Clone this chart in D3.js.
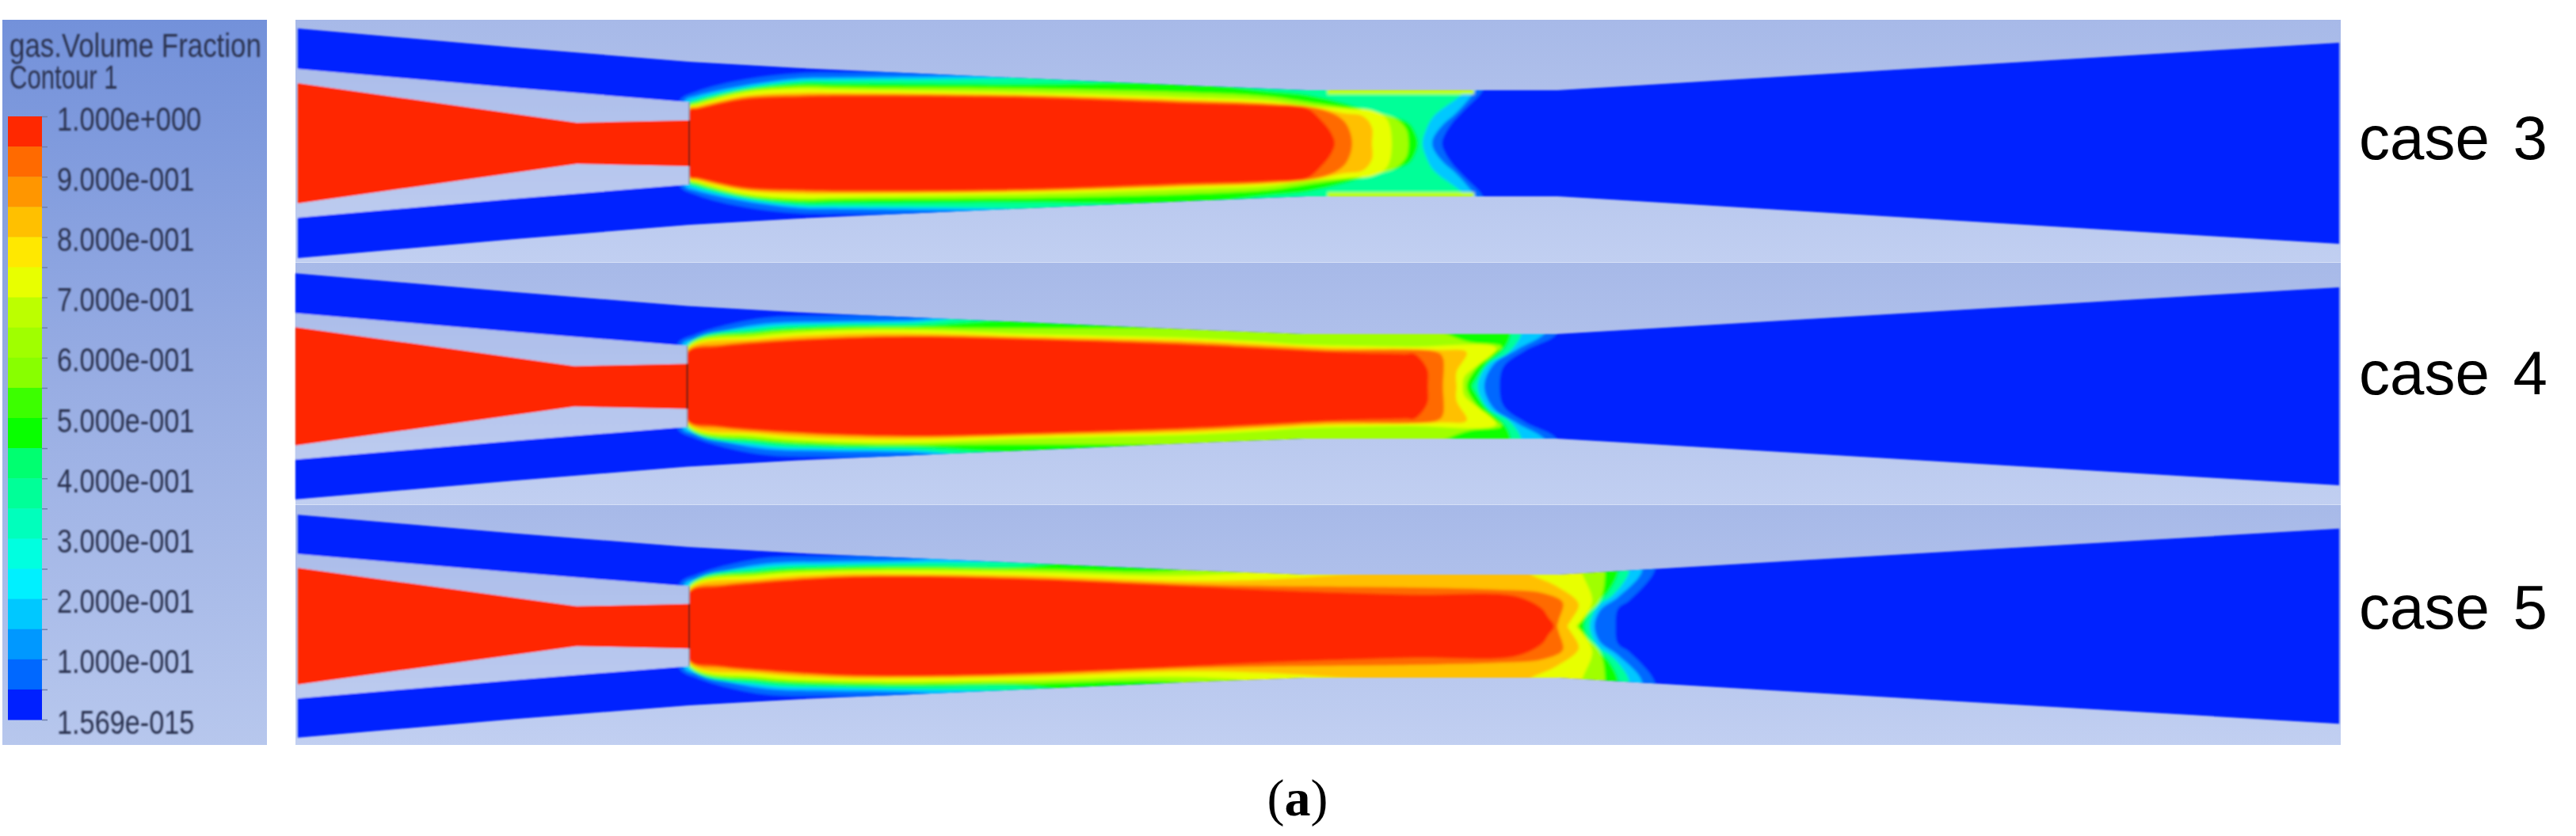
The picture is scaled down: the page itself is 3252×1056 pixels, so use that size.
<!DOCTYPE html>
<html>
<head>
<meta charset="utf-8">
<script src="https://cdnjs.cloudflare.com/ajax/libs/d3/7.8.5/d3.min.js"></script>
<style>
  html, body { margin: 0; background: #fff; }
  text { font-family: "Liberation Sans", Arial, sans-serif; }
</style>
</head>
<body>
<div id="chart"></div>
<script>
// legend: 20 colour bands, top (1.0) to bottom (0)
var legendColors = ['#ff2800', '#ff6a00', '#ff9600', '#ffc000', '#ffe800', '#e8ff00', '#bcff00', '#a0ff00', '#88ff00', '#3cff00',
  '#08ff00', '#00ff70', '#00ff98', '#00ffbc', '#00ffe0', '#00f0ff', '#00c8ff', '#0098ff', '#0068ff', '#0020ff'];
var legendTicks = [1, 0.9, 0.8, 0.7, 0.6, 0.5, 0.4, 0.3, 0.2, 0.1, 0];
var legendLabels = ['1.000e+000', '9.000e-001', '8.000e-001', '7.000e-001', '6.000e-001', '5.000e-001',
  '4.000e-001', '3.000e-001', '2.000e-001', '1.000e-001', '1.569e-015'];

var caseNames = ['case 3', 'case 4', 'case 5'];

// ejector geometry as [axial, half height]
var wallProfile = [[0, 145], [274, 121], [494, 103], [634, 95], [924, 82], [1124, 73], [1274, 67], [1590, 67], [2577, 127]];
var suctionInner = [[0, 94], [274, 70], [494, 52]];
var primaryNozzle = [[0, 76], [352, 26], [494, 29]];

// which legend band each contour below is filled with, outermost first
var contourBands = [18, 16, 12, 10, 7, 5, 3, 1, 0];

var case3Contours = [
  [[481, 53], [504, 66], [564, 81], [634, 89], [700, 90], [800, 92], [1480, 92], [1498, 75], [1496, 66], [1471, 40], [1458, 26], [1448, 10], [1445, 0]],
  [[488, 53], [504, 60], [564, 73], [634, 82], [684, 83], [880, 86], [1000, 92], [1480, 92], [1490, 75], [1486, 66], [1462, 38], [1446, 24], [1434, 8], [1432, 0]],
  [[494, 51], [504, 56], [564, 70], [634, 79], [684, 80], [924, 84], [1000, 92], [1460, 92], [1477, 72], [1470, 62], [1434, 34], [1424, 16], [1420, 0]],
  [[494, 49], [504, 53], [564, 68], [634, 76], [684, 76], [924, 75], [1124, 76], [1224, 66], [1274, 61], [1330, 48], [1357, 39], [1391, 31], [1404, 24], [1412, 10], [1414, 0]],
  [[494, 47], [504, 51], [564, 66], [634, 72], [684, 71], [924, 69], [1124, 64], [1224, 59], [1274, 52], [1340, 42], [1384, 32], [1399, 18], [1402, 0]],
  [[494, 46], [504, 49], [564, 64], [634, 69], [684, 68], [924, 64], [1124, 58], [1224, 54], [1274, 47], [1320, 44], [1357, 41], [1375, 30], [1381, 0]],
  [[494, 44], [504, 47], [564, 60], [634, 64], [684, 64], [924, 61], [1124, 55], [1224, 51], [1281, 46], [1320, 38], [1345, 34], [1356, 20], [1356, 0]],
  [[494, 43], [504, 45], [564, 58], [634, 61], [684, 62], [924, 60], [1124, 53], [1224, 50], [1281, 45], [1310, 36], [1324, 24], [1331, 0]],
  [[494, 42], [504, 44], [564, 56], [634, 59], [684, 60], [924, 58], [1124, 51], [1224, 48], [1274, 44], [1291, 30], [1304, 14], [1309, 0]]
];

var case4Contours = [
  [[481, 53], [504, 66], [584, 86], [684, 90], [784, 92], [860, 95], [1585, 95], [1591, 67], [1551, 45], [1524, 25], [1519, 0]],
  [[488, 53], [504, 60], [584, 78], [684, 82], [784, 84], [880, 95], [1570, 95], [1577, 70], [1541, 47], [1511, 28], [1499, 0]],
  [[494, 52], [584, 74], [684, 79], [784, 81], [924, 95], [1540, 95], [1547, 70], [1530, 43], [1504, 28], [1491, 0]],
  [[494, 51], [584, 70], [684, 76], [784, 77], [924, 85], [1530, 85], [1533, 70], [1526, 50], [1500, 26], [1488, 8], [1484, 0]],
  [[494, 50], [584, 67], [684, 73], [784, 74], [924, 73], [1124, 74], [1430, 75], [1444, 69], [1480, 56], [1521, 50], [1500, 35], [1480, 10], [1477, 0]],
  [[494, 48], [584, 63], [684, 70], [784, 71], [924, 66], [1124, 61], [1224, 56], [1264, 53], [1400, 50], [1514, 48], [1474, 12], [1472, 0]],
  [[494, 46], [584, 60], [684, 66], [784, 67], [924, 63], [1124, 58], [1224, 53], [1300, 49], [1440, 46], [1477, 43], [1464, 18], [1464, 0]],
  [[494, 44], [540, 53], [584, 57], [684, 62], [784, 64], [924, 61], [1124, 55], [1224, 50], [1300, 46], [1440, 43], [1447, 36], [1447, 0]],
  [[494, 43], [530, 50], [584, 55], [684, 61], [784, 63], [924, 60], [1124, 53], [1224, 48], [1300, 44], [1400, 41], [1411, 41], [1427, 22], [1428, 0]]
];

var case5Contours = [
  [[481, 53], [504, 66], [584, 86], [684, 89], [784, 92], [860, 95], [1708, 95], [1714, 72], [1681, 32], [1667, 22], [1664, 0]],
  [[488, 53], [504, 60], [584, 78], [684, 82], [784, 84], [880, 95], [1690, 95], [1697, 70], [1667, 37], [1644, 20], [1637, 0]],
  [[494, 52], [584, 74], [684, 78], [784, 80], [924, 84], [1000, 95], [1675, 95], [1681, 70], [1661, 40], [1641, 25], [1631, 0]],
  [[494, 51], [584, 70], [684, 75], [784, 76], [924, 76], [1040, 95], [1660, 95], [1667, 70], [1654, 43], [1637, 27], [1624, 0]],
  [[494, 50], [584, 67], [684, 72], [784, 73], [924, 72], [1124, 72], [1200, 95], [1645, 95], [1650, 68], [1644, 33], [1617, 0]],
  [[494, 48], [584, 64], [684, 69], [784, 70], [924, 68], [1124, 64], [1224, 72], [1300, 95], [1615, 95], [1621, 68], [1634, 32], [1620, 6], [1614, 0]],
  [[494, 46], [584, 60], [684, 66], [784, 66], [924, 64], [1124, 57], [1224, 59], [1404, 70], [1550, 70], [1557, 65], [1590, 50], [1617, 28], [1607, 7], [1603, 0]],
  [[494, 44], [540, 53], [584, 57], [684, 63], [784, 64], [924, 61], [1124, 53], [1224, 51], [1404, 49], [1520, 46], [1571, 42], [1597, 30], [1592, 8], [1590, 0]],
  [[494, 43], [530, 50], [584, 55], [684, 62], [784, 63], [924, 60], [1124, 51], [1224, 46], [1404, 40], [1537, 38], [1571, 22], [1578, 12], [1586, 0]]
];

var caseContours = [case3Contours, case4Contours, case5Contours];

// thin lime film on the wall of case 3, just before the shock
var case3Film = [[1300, 67], [1390, 67], [1485, 67]];
var caseFilms = [case3Film, null, null];

var width = 3252;
var height = 1056;

// per case layout
var panelTops = [25, 332, 638];
var panelBottoms = [332, 638, 941];
var centers = [181, 488, 791];
var wallFactors = [1, 0.985, 0.97];
var inletX = [376, 373, 376];
var labelBaselines = [201, 498, 794];

var svg = d3.select("#chart")
  .append("svg")
    .attr("width", width)
    .attr("height", height)
    .style("display", "block");

var defs = svg.append("defs");

defs.append("filter").attr("id", "soft").attr("x", "-5%").attr("y", "-20%").attr("width", "110%").attr("height", "140%")
  .append("feGaussianBlur").attr("stdDeviation", 1.6);
defs.append("filter").attr("id", "softEdge").attr("x", "-5%").attr("y", "-20%").attr("width", "110%").attr("height", "140%")
  .append("feGaussianBlur").attr("stdDeviation", 0.9);
defs.append("filter").attr("id", "softText").attr("x", "-5%").attr("y", "-20%").attr("width", "110%").attr("height", "140%")
  .append("feGaussianBlur").attr("stdDeviation", 0.8);

function addGradient(id, y1, y2, stops) {
  var g = defs.append("linearGradient").attr("id", id)
    .attr("gradientUnits", "userSpaceOnUse")
    .attr("x1", 0).attr("x2", 0).attr("y1", y1).attr("y2", y2);
  stops.forEach(function (s) {
    g.append("stop").attr("offset", s[0]).attr("stop-color", s[1]);
  });
}

// the legend text of the reference is stretched upward, so squeeze it sideways
function squeeze(sel, factor) {
  sel.each(function () {
    d3.select(this)
      .attr("textLength", this.getComputedTextLength() * factor)
      .attr("lengthAdjust", "spacingAndGlyphs");
  });
}

// legend panel
addGradient("legendBg", 25, 941, [[0, "#7391da"], [0.5, "#98ade3"], [1, "#b7c7ed"]]);
svg.append("rect")
  .attr("x", 3).attr("y", 25).attr("width", 334).attr("height", 916)
  .attr("fill", "url(#legendBg)");

var legend = svg.append("g");
var bandY = d3.scaleBand()
  .domain(d3.range(legendColors.length))
  .range([147, 909]);

legend.selectAll("rect")
  .data(legendColors)
  .enter()
  .append("rect")
    .attr("x", 10)
    .attr("y", function (d, i) { return bandY(i); })
    .attr("width", 43)
    .attr("height", bandY.bandwidth() + 0.5)
    .attr("fill", function (d) { return d; });

var legendScale = d3.scaleLinear().domain([1, 0]).range([147, 909]);
var allTicks = d3.range(legendColors.length + 1).map(function (i) { return 1 - i / legendColors.length; });

var legendAxis = d3.axisRight(legendScale)
  .tickValues(allTicks)
  .tickSize(7)
  .tickPadding(12)
  .tickFormat(function (d) {
    var idx = legendTicks.findIndex(function (t) { return Math.abs(t - d) < 1e-6; });
    return idx >= 0 ? legendLabels[idx] : "";
  });

var axisG = legend.append("g")
  .attr("transform", "translate(53,0)")
  .call(legendAxis);
axisG.select(".domain").remove();
axisG.selectAll(".tick line").attr("stroke", "#6f80ad").attr("stroke-width", 1.5);
axisG.selectAll(".tick text")
  .attr("dy", 17)
  .attr("font-size", 43)
  .attr("font-family", "Liberation Sans")
  .attr("fill", "#2a3350")
  .attr("filter", "url(#softText)")
  .call(squeeze, 0.797);

svg.append("text")
  .attr("x", 12).attr("y", 72)
  .attr("font-size", 42)
  .attr("fill", "#2a3350")
  .attr("filter", "url(#softText)")
  .text("gas.Volume Fraction")
  .call(squeeze, 0.83);
svg.append("text")
  .attr("x", 12).attr("y", 112)
  .attr("font-size", 42)
  .attr("fill", "#2a3350")
  .attr("filter", "url(#softText)")
  .text("Contour 1")
  .call(squeeze, 0.74);

// the three contour plots
caseNames.forEach(function (name, c) {
  addGradient("panelBg" + c, panelTops[c], panelBottoms[c], [[0, "#a7b9e8"], [1, "#c1cff1"]]);

  var panel = svg.append("g");
  panel.append("rect")
    .attr("x", 373).attr("y", panelTops[c])
    .attr("width", 2953 - 373 + 2).attr("height", panelBottoms[c] - panelTops[c])
    .attr("fill", "url(#panelBg" + c + ")");

  var x = d3.scaleLinear().domain([0, 2577]).range([inletX[c], 2953]);
  // walls are slightly squeezed from case to case, the contours were read directly
  var yWall = d3.scaleLinear().domain([-145, 145]).range([centers[c] + 145 * wallFactors[c], centers[c] - 145 * wallFactors[c]]);
  var y = d3.scaleLinear().domain([-145, 145]).range([centers[c] + 145, centers[c] - 145]);

  var band = d3.area()
    .x(function (d) { return x(d[0]); })
    .y0(function (d) { return yWall(-d[1]); })
    .y1(function (d) { return yWall(d[1]); });

  var outline = d3.line()
    .x(function (d) { return x(d[0]); })
    .y(function (d) { return y(d[1]); })
    .curve(d3.curveCatmullRomClosed.alpha(0.5));

  defs.append("clipPath").attr("id", "duct" + c)
    .append("path").attr("d", band(wallProfile));

  var flow = panel.append("g").attr("filter", "url(#softEdge)");

  flow.append("path")
    .attr("d", band(wallProfile))
    .attr("fill", legendColors[19]);

  var mixing = flow.append("g").attr("clip-path", "url(#duct" + c + ")")
    .append("g").attr("filter", "url(#soft)");

  mixing.selectAll("path.contour")
    .data(caseContours[c])
    .enter()
    .append("path")
      .attr("class", "contour")
      .attr("d", function (pts) {
        var upper = pts.slice(0, -1);
        var lower = pts.slice(0, -1).reverse().map(function (p) { return [p[0], -p[1]]; });
        return outline(upper.concat([pts[pts.length - 1]], lower));
      })
      .attr("fill", function (d, i) { return legendColors[contourBands[i]]; });

  if (caseFilms[c]) {
    var film = d3.line()
      .x(function (d) { return x(d[0]); })
      .y(function (d) { return y(d[1]); });
    [1, -1].forEach(function (side) {
      mixing.append("path")
        .attr("d", film(caseFilms[c].map(function (p) { return [p[0], p[1] * side]; })))
        .attr("fill", "none")
        .attr("stroke", legendColors[6])
        .attr("stroke-width", 10);
    });
  }

  // solid wall between the suction passage and the primary nozzle
  flow.append("path")
    .attr("d", band(suctionInner))
    .attr("fill", "url(#panelBg" + c + ")");

  flow.append("path")
    .attr("d", band(primaryNozzle))
    .attr("fill", legendColors[0]);

  // nozzle exit plane
  var exitAxial = primaryNozzle[primaryNozzle.length - 1][0];
  var exitHalf = primaryNozzle[primaryNozzle.length - 1][1];
  var innerHalf = suctionInner[suctionInner.length - 1][1];
  flow.append("line")
    .attr("x1", x(exitAxial)).attr("x2", x(exitAxial))
    .attr("y1", yWall(exitHalf)).attr("y2", yWall(-exitHalf))
    .attr("stroke", "#4a2018").attr("stroke-width", 2);
  [1, -1].forEach(function (side) {
    flow.append("line")
      .attr("x1", x(exitAxial)).attr("x2", x(exitAxial))
      .attr("y1", yWall(side * exitHalf)).attr("y2", yWall(side * innerHalf))
      .attr("stroke", "#7f8798").attr("stroke-width", 1.5);
  });

  // separator under the first two panels
  if (c < 2) {
    panel.append("rect")
      .attr("x", 373).attr("y", panelBottoms[c] - 1)
      .attr("width", 2582).attr("height", 2)
      .attr("fill", "#d6e0f7");
  }

  svg.append("text")
    .attr("x", 2978)
    .attr("y", labelBaselines[c])
    .attr("font-size", 78)
    .attr("word-spacing", 8)
    .attr("fill", "#000")
    .text(name);
});

// sub-figure label
var subLabel = svg.append("text")
  .attr("x", 1638).attr("y", 1030)
  .attr("text-anchor", "middle")
  .attr("font-size", 66)
  .style("font-family", "'Liberation Serif', serif")
  .attr("fill", "#000");
subLabel.append("tspan").text("(");
subLabel.append("tspan").attr("font-weight", "bold").text("a");
subLabel.append("tspan").text(")");
</script>
</body>
</html>
